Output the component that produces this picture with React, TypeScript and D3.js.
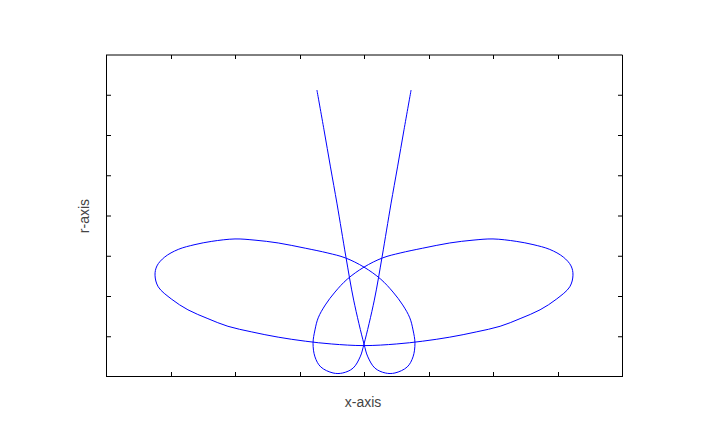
import { useEffect, useRef } from 'react'
import * as d3 from 'd3'

// tick positions (no labels in the original, ticks only)
const xTicks = [-3, -2, -1, 0, 1, 2, 3]
const yTicks = [1, 2, 3, 4, 5, 6, 7]

// curve, in drawing order, [x, r]
const leftLine = [
  [-0.73, 7.13], [-0.62, 6.14], [-0.52, 5.22], [-0.42, 4.32],
  [-0.35, 3.65], [-0.28, 2.98], [-0.16, 1.91], [0.0, 0.82],
]
const rightLoop = [
  [0.06, 0.5], [0.17, 0.22], [0.33, 0.1], [0.48, 0.1], [0.67, 0.25],
  [0.76, 0.5], [0.79, 0.84], [0.76, 1.17], [0.71, 1.47], [0.6, 1.79],
  [0.45, 2.11], [0.26, 2.43], [0.0, 2.73],
]
const leftLobe = [
  [-0.29, 2.96], [-0.56, 3.08], [-0.91, 3.2], [-1.33, 3.33], [-1.69, 3.4],
  [-2.0, 3.43], [-2.36, 3.37], [-2.62, 3.29], [-2.88, 3.17], [-3.09, 2.98],
  [-3.21, 2.76], [-3.24, 2.53], [-3.19, 2.24], [-2.98, 1.93], [-2.73, 1.67],
  [-2.42, 1.45], [-2.11, 1.26], [-1.74, 1.12], [-1.33, 0.99], [-0.91, 0.89],
  [-0.5, 0.82], [0.0, 0.78],
]
const rightLobe = [
  [0.5, 0.82], [0.91, 0.89], [1.33, 0.99], [1.74, 1.12], [2.11, 1.26],
  [2.42, 1.45], [2.73, 1.67], [2.98, 1.93], [3.19, 2.24], [3.24, 2.53],
  [3.21, 2.76], [3.09, 2.98], [2.88, 3.17], [2.62, 3.29], [2.36, 3.37],
  [2.0, 3.43], [1.69, 3.4], [1.33, 3.33], [0.91, 3.2], [0.56, 3.08],
  [0.29, 2.96], [0.0, 2.73],
]
const leftLoop = [
  [-0.26, 2.43], [-0.45, 2.11], [-0.6, 1.79], [-0.71, 1.47], [-0.76, 1.17],
  [-0.79, 0.84], [-0.76, 0.5], [-0.67, 0.25], [-0.48, 0.1], [-0.33, 0.1],
  [-0.17, 0.22], [-0.06, 0.5], [0.0, 0.82],
]
const rightLine = [
  [0.16, 1.91], [0.28, 2.98], [0.35, 3.65], [0.42, 4.32],
  [0.52, 5.22], [0.62, 6.14], [0.73, 7.13],
]

const curve = [...leftLine, ...rightLoop, ...leftLobe, ...rightLobe, ...leftLoop, ...rightLine]

export default function App() {
  const svgRef = useRef<SVGSVGElement>(null)

  useEffect(() => {
    const W = 706, H = 446
    const box = { l: 106, r: 622, t: 55, b: 377 }
    const C = { frame: '#000000', line: '#0000ff', text: '#444444' }

    const svg = d3.select(svgRef.current)
    svg.selectAll('*').remove()
    svg.attr('width', W).attr('height', H).style('background', '#ffffff')

    const xS = d3.scaleLinear().domain([-4, 4]).range([box.l, box.r])
    const yS = d3.scaleLinear().domain([0, 8]).range([box.b, box.t])

    // frame
    svg.append('line').attr('x1', box.l).attr('x2', box.r + 0.5).attr('y1', box.t).attr('y2', box.t).attr('stroke', C.frame).attr('stroke-width', 1)
    svg.append('line').attr('x1', box.l).attr('x2', box.r + 0.5).attr('y1', box.b - 0.5).attr('y2', box.b - 0.5).attr('stroke', C.frame).attr('stroke-width', 1)
    svg.append('line').attr('x1', box.l + 0.5).attr('x2', box.l + 0.5).attr('y1', box.t).attr('y2', box.b).attr('stroke', C.frame).attr('stroke-width', 1)
    svg.append('line').attr('x1', box.r + 0.5).attr('x2', box.r + 0.5).attr('y1', box.t).attr('y2', box.b).attr('stroke', C.frame).attr('stroke-width', 1)

    // ticks, pointing inward
    const tk = 5
    xTicks.forEach(v => {
      const x = Math.round(xS(v)) + 0.5
      svg.append('line').attr('x1', x).attr('x2', x).attr('y1', box.b).attr('y2', box.b - tk).attr('stroke', C.frame)
      svg.append('line').attr('x1', x).attr('x2', x).attr('y1', box.t).attr('y2', box.t + tk - 1).attr('stroke', C.frame)
    })
    yTicks.forEach(v => {
      const y = yS(v)
      svg.append('line').attr('x1', box.l).attr('x2', box.l + tk).attr('y1', y).attr('y2', y).attr('stroke', C.frame)
      svg.append('line').attr('x1', box.r + 1).attr('x2', box.r + 1 - tk).attr('y1', y).attr('y2', y).attr('stroke', C.frame)
    })

    // the curve
    const line = d3.line<number[]>().x(d => xS(d[0])).y(d => yS(d[1])).curve(d3.curveCatmullRom.alpha(0.5))
    svg.append('path').datum(curve).attr('fill', 'none').attr('stroke', C.line).attr('stroke-width', 1).attr('d', line)

    // axis titles
    svg.append('text').attr('x', (box.l + box.r) / 2 - 1).attr('y', 407).attr('text-anchor', 'middle')
      .attr('fill', C.text).attr('font-family', '"Liberation Sans", Arial, sans-serif').attr('font-size', 14).text('x-axis')
    svg.append('text').attr('x', 89).attr('y', 216).attr('text-anchor', 'middle')
      .attr('transform', 'rotate(-90, 89, 216)')
      .attr('fill', C.text).attr('font-family', '"Liberation Sans", Arial, sans-serif').attr('font-size', 14).text('r-axis')
  }, [])

  return (
    <div style={{ position: 'fixed', left: 0, top: 0 }}>
      <svg ref={svgRef} style={{ display: 'block' }} />
    </div>
  )
}
